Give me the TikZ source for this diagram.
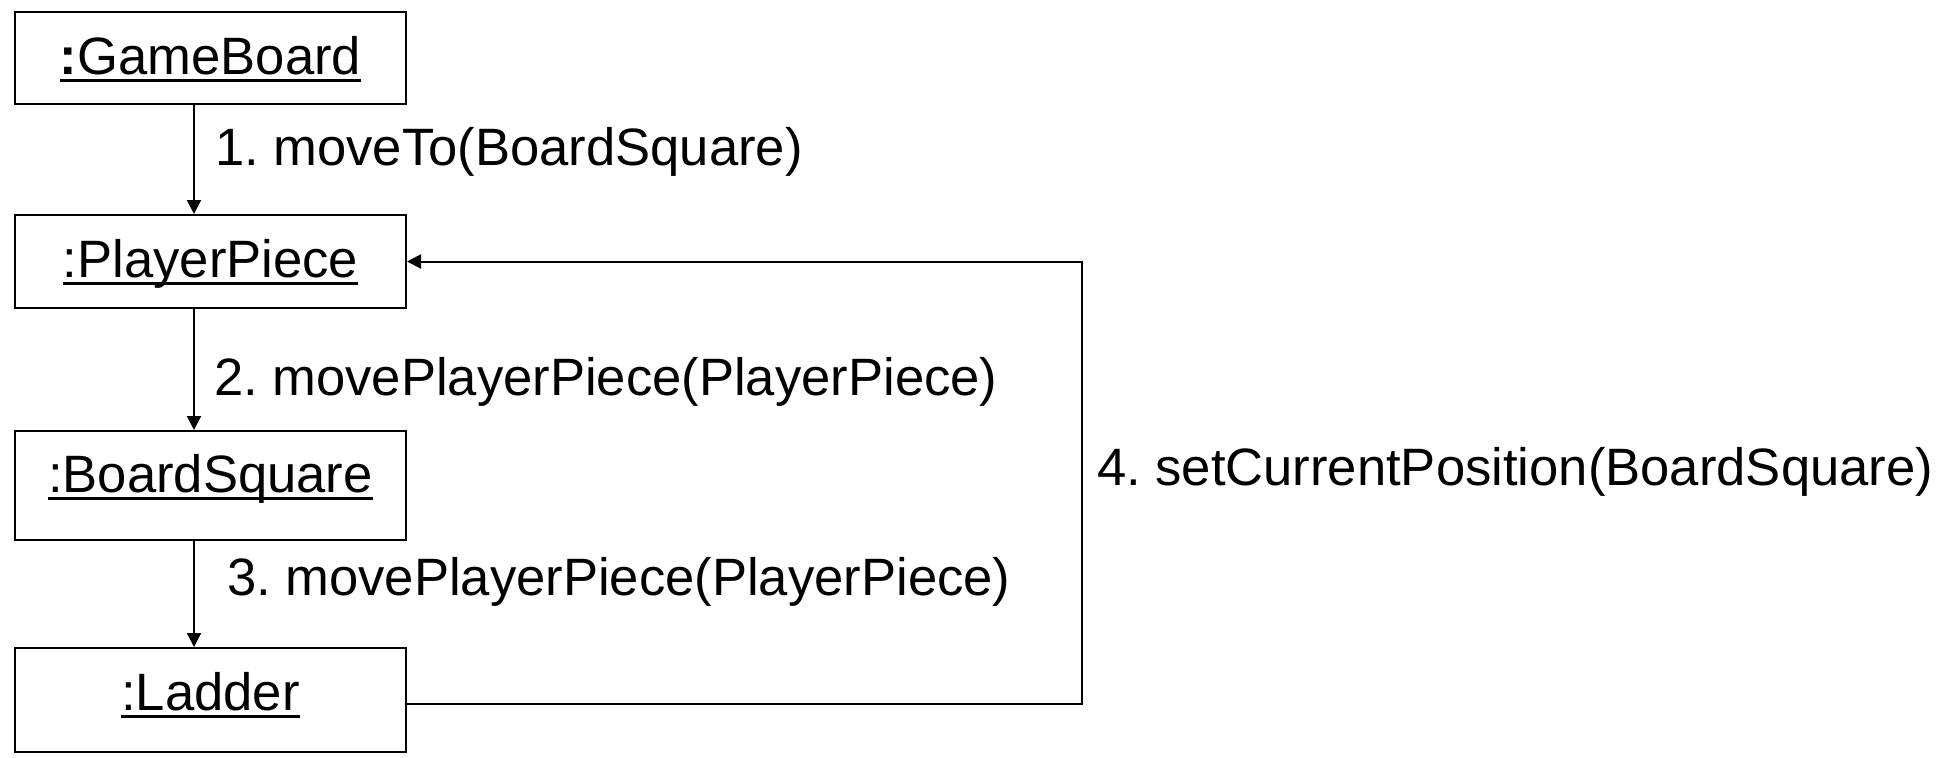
\documentclass[tikz,border=0pt]{standalone}
\usepackage{fontspec}
\setmainfont{Liberation Sans}
\usepackage{tikz}
\usetikzlibrary{arrows.meta}
\newcommand{\objname}[1]{\setbox0\hbox{#1}\rlap{\rule[-3.75pt]{\wd0}{1.5pt}}\box0}
\frenchspacing

\begin{document}
\begin{tikzpicture}
                    [x=0.5pt, y=-0.5pt,
                    line width=1pt,
                    font=\fontsize{26.3}{31}\selectfont,
                    obj/.style = {draw, rectangle,
                                minimum width=195.5pt,
                                inner sep=0pt,
                                text depth=2pt},
                    msg/.style = {-{Triangle[length=7pt,width=7pt]}},
                    lbl/.style = {anchor=base west, inner sep=0pt}]
                    \useasboundingbox (0,0) rectangle (1947,757);
                    % Objetos
                    \node[obj, minimum height=46pt, text height=18pt] (gb) at (210.5,58) {\objname{\textbf{:}GameBoard}};
                    \node[obj, minimum height=46.5pt, text height=17.5pt] (pp) at (210.5,261.5) {\objname{:PlayerPiece}};
                    \node[obj, minimum height=54.5pt, text height=8.5pt] (bs) at (210.5,485.5) {\objname{:BoardSquare}};
                    \node[obj, minimum height=52pt, text height=12pt] (ld) at (210.5,700) {\objname{:Ladder}};
                    % Mensajes
                    \draw[msg] ([xshift=-8.25pt]gb.south) -- ([xshift=-8.25pt]pp.north);
                    \draw[msg] ([xshift=-8.25pt]pp.south) -- ([xshift=-8.25pt]bs.north);
                    \draw[msg] ([xshift=-8.25pt]bs.south) -- ([xshift=-8.25pt]ld.north);
                    \coordinate (turnlo) at (1082,704);
                    \coordinate (turnhi) at (1082,261.5);
                    \draw[msg] (ld.east |- turnlo) -- (turnlo) -- (turnhi) -- (pp.east);
                    % Etiquetas
                    \node[lbl] (m1) at (214,165) {1. moveTo(BoardSquare)};
                    \node[lbl] (m2) at (213,395) {2. movePlayerPiece(PlayerPiece)};
                    \node[lbl] (m3) at (226,595) {3. movePlayerPiece(PlayerPiece)};
                    \node[lbl] (m4) at (1096,485) {4. setCurrentPosition(BoardSquare)};
                \end{tikzpicture}
\end{document}
